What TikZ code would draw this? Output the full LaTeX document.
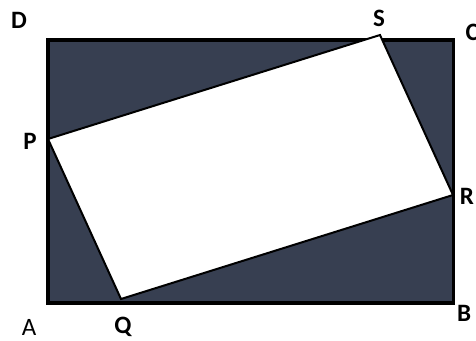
\documentclass[tikz,border=0pt]{standalone}
\usepackage{fontspec}
\setmainfont{Carlito}
\definecolor{slate}{RGB}{55,63,81}
\begin{document}
\begin{tikzpicture}[x=1pt,y=-1pt,
  lbl/.style={font=\fontsize{25}{27}\selectfont\bfseries, inner sep=0pt},
  lbln/.style={font=\fontsize{25}{27}\selectfont, inner sep=0pt}]
\useasboundingbox (0,0) rectangle (476,340);
\coordinate (D) at (48,40);
\coordinate (C) at (453.5,40);
\coordinate (B) at (453.5,303);
\coordinate (A) at (48,303);
\coordinate (P) at (48,139);
\coordinate (Q) at (121,299);
\coordinate (R) at (453,195);
\coordinate (S) at (380,35);
\filldraw[fill=slate, draw=black, line width=3.5pt] (A) -- (B) -- (C) -- (D) -- cycle;
\filldraw[fill=white, draw=black, line width=2pt, line join=miter] (P) -- (Q) -- (R) -- (S) -- cycle;
\node[lbl] (lD) at (19,20) {D};
\node[lbl] (lS) at (379,18) {S};
\node[lbl, anchor=west] (lC) at (465.5,32) {C};
\node[lbl] (lP) at (30,141) {P};
\node[lbl] (lR) at (467,196) {R};
\node[lbln] (lA) at (29,327) {A};
\node[lbl] (lQ) at (123,327) {Q};
\node[lbl] (lB) at (464,313) {B};
\end{tikzpicture}
\end{document}
